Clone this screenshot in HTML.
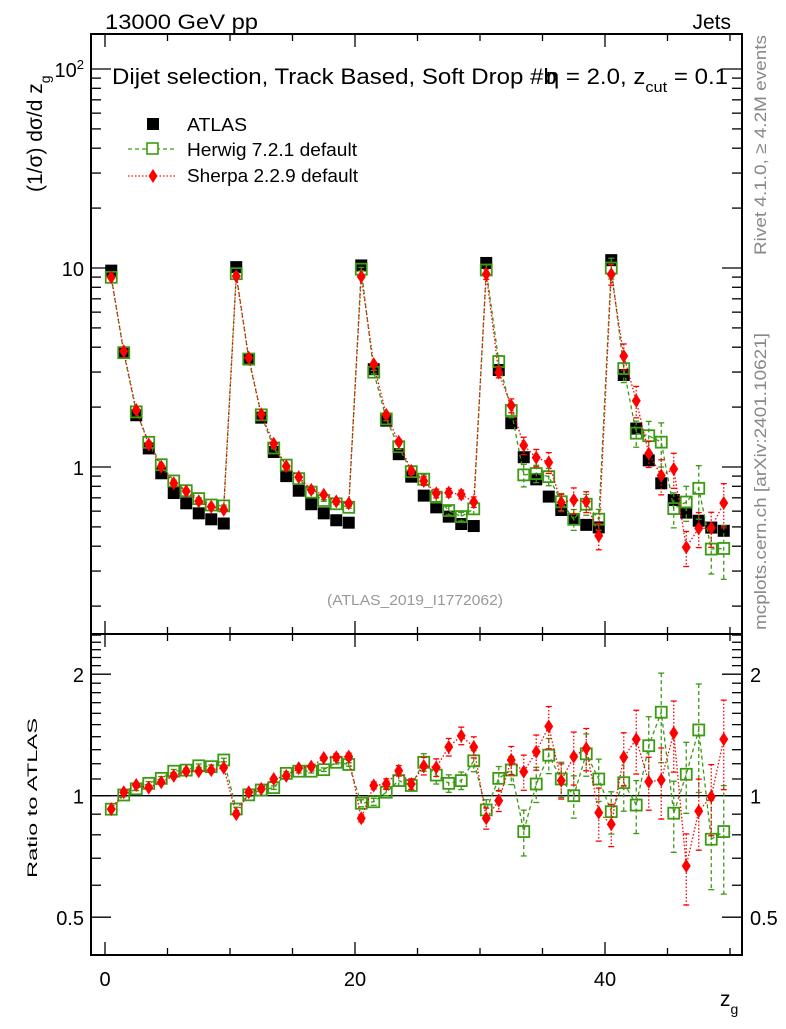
<!DOCTYPE html>
<html><head><meta charset="utf-8"><style>
body{margin:0;background:#fff;}
svg{font-family:"Liberation Sans",sans-serif;}
</style></head><body>
<svg id="c" width="786" height="1024" viewBox="0 0 786 1024"></svg>
<script>
const xCenters=[];for(let i=0;i<50;i++)xCenters.push(i+0.5);
const atlasVals=[9.7,3.74,1.82,1.24,0.93,0.74,0.657,0.585,0.546,0.52,
10.1,3.47,1.77,1.19,0.90,0.76,0.65,0.585,0.54,0.525,
10.3,3.1,1.71,1.16,0.894,0.718,0.627,0.563,0.517,0.505,
10.6,3.07,1.66,1.12,0.867,0.71,0.608,0.546,0.512,0.497,
10.95,2.9,1.56,1.08,0.828,0.683,0.59,0.537,0.496,0.478];
const herwigRatio=[0.926,1.004,1.04,1.073,1.104,1.15,1.157,1.186,1.18,1.226,
0.927,1.005,1.033,1.047,1.136,1.15,1.15,1.16,1.21,1.195,
0.958,0.966,1.02,1.09,1.06,1.21,1.125,1.073,1.09,1.22,
0.922,1.104,1.158,0.815,1.069,1.26,1.1,1.0,1.27,1.1,
0.913,1.077,0.948,1.33,1.61,0.905,1.13,1.455,0.78,0.815];
const sherpaRatio=[0.926,1.02,1.063,1.047,1.08,1.12,1.15,1.15,1.157,1.173,
0.90,1.02,1.04,1.1,1.12,1.17,1.18,1.24,1.245,1.25,
0.879,1.06,1.069,1.153,1.069,1.185,1.175,1.32,1.408,1.32,
0.879,0.972,1.226,1.146,1.285,1.485,1.09,1.25,1.31,0.908,
0.85,1.245,1.38,1.083,1.094,1.43,0.67,0.916,0.995,1.38];
const herwigErr=[0.01,0.01,0.01,0.01,0.01,0.01,0.01,0.01,0.01,0.01,
0.01,0.01,0.01,0.01,0.01,0.01,0.01,0.01,0.01,0.01,
0.02,0.02,0.02,0.03,0.03,0.05,0.05,0.05,0.05,0.06,
0.06,0.07,0.08,0.13,0.1,0.1,0.1,0.12,0.12,0.12,
0.12,0.15,0.15,0.18,0.25,0.2,0.2,0.3,0.25,0.3];
const sherpaErr=[0.01,0.01,0.01,0.01,0.01,0.01,0.01,0.01,0.01,0.01,
0.01,0.01,0.01,0.01,0.01,0.01,0.01,0.01,0.02,0.02,
0.02,0.02,0.03,0.03,0.03,0.05,0.05,0.05,0.05,0.06,
0.06,0.06,0.08,0.1,0.1,0.12,0.1,0.15,0.12,0.15,
0.12,0.15,0.18,0.15,0.2,0.2,0.2,0.2,0.2,0.25];
const xTickLabels=["0","20","40"];
const mainTickLabels=[{v:100,t:"10<tspan dy='-8' font-size='13'>2</tspan>"},{v:10,t:"10"},{v:1,t:"1"}];
const ratioTickLabels=[2,1,0.5];

const NS="http://www.w3.org/2000/svg";
const svg=document.getElementById('c');
const L=91,R=742,MT=34,MB=634,RB=955;
const X=v=>105+12.5*v;
const Y=v=>467-199*Math.log10(v);
const YR=v=>795.7-121.5*Math.log2(v);
function el(tag,attrs,parent){const e=document.createElementNS(NS,tag);for(const k in attrs)e.setAttribute(k,attrs[k]);(parent||svg).appendChild(e);return e;}
function txt(x,y,s,attrs,parent){const e=el('text',Object.assign({x:x,y:y},attrs||{}),parent);e.innerHTML=s;return e;}
const GREEN="#3c9a14",RED="#ff0000";

let f=el('rect',{x:L,y:MT,width:R-L,height:MB-MT,fill:'none',stroke:'#000','stroke-width':2});


f=el('rect',{x:L,y:MB,width:R-L,height:RB-MB,fill:'none',stroke:'#000','stroke-width':2});



const ticks=el('g',{stroke:'#000','stroke-width':1.3});


for(let v=0;v<=50;v+=5){const major=v%20===0;const len=major?13:7;const x=X(v);
 [[MT,1],[MB,-1],[MB,1],[RB,-1]].forEach(([y,d])=>el('line',{x1:x,x2:x,y1:y,y2:y+d*len},ticks));}
for(let e=-1;e<=2;e++){for(let m=1;m<10;m++){const v=m*Math.pow(10,e);const y=Y(v);if(y<MT||y>MB)continue;const len=m===1?20:10;
 el('line',{x1:L,x2:L+len,y1:y,y2:y},ticks);el('line',{x1:R,x2:R-len,y1:y,y2:y},ticks);}}
const rt=[0.4,0.5,0.6,0.7,0.8,0.9,1,1.1,1.2,1.3,1.4,1.5,1.6,1.7,1.8,1.9,2,2.1,2.2,2.3,2.4,2.5];
rt.forEach(v=>{const y=YR(v);if(y<MB||y>RB)return;const len=(v===0.5||v===1||v===2)?20:10;
 el('line',{x1:L,x2:L+len,y1:y,y2:y},ticks);el('line',{x1:R,x2:R-len,y1:y,y2:y},ticks);});

xTickLabels.forEach(s=>{const t=txt(X(+s),986,s,{'font-size':20,'text-anchor':'middle'});
 
 });
mainTickLabels.forEach(o=>{const t=txt(84,Y(o.v)+8,o.t,{'font-size':20,'text-anchor':'end'});
 
 });
ratioTickLabels.forEach(v=>{let t=txt(84,YR(v)+8,String(v),{'font-size':20,'text-anchor':'end'});
 
 
 t=txt(750,YR(v)+8,String(v),{'font-size':20});
 
 });

let rl=el('line',{x1:L,x2:R,y1:YR(1),y2:YR(1),stroke:'#000','stroke-width':1.3});



let t;
t=txt(105,29,"13000 GeV pp",{'font-size':21,textLength:153,lengthAdjust:'spacingAndGlyphs'});
t=txt(731,29,"Jets",{'font-size':21,'text-anchor':'end'});
t=txt(112,84,"Dijet selection, Track Based, Soft Drop #b<tspan dx='-10'>η</tspan> = 2.0, z<tspan dy='8' font-size='15'>cut</tspan><tspan dy='-8'> = 0.1</tspan>",{'font-size':22,textLength:616,lengthAdjust:'spacingAndGlyphs'});

t=txt(0,0,"(1/σ) dσ/d z<tspan dy='8' font-size='14'>g</tspan>",{'font-size':21,transform:'translate(42,192) rotate(-90)'});

t=txt(0,0,"Ratio to ATLAS",{'font-size':14,'text-anchor':'middle',textLength:160,lengthAdjust:'spacingAndGlyphs',transform:'translate(37,798) rotate(-90)'});

t=txt(720,1006,"z<tspan dy='8' font-size='14'>g</tspan>",{'font-size':21});

t=txt(0,0,"Rivet 4.1.0, ≥ 4.2M events",{'font-size':17,fill:'#888','text-anchor':'end',textLength:220,lengthAdjust:'spacingAndGlyphs',transform:'translate(766,35) rotate(-90)'});

t=txt(0,0,"mcplots.cern.ch [arXiv:2401.10621]",{'font-size':17,fill:'#888','text-anchor':'end',textLength:297,lengthAdjust:'spacingAndGlyphs',transform:'translate(766,333) rotate(-90)'});

t=txt(415,605,"(ATLAS_2019_I1772062)",{'font-size':15,fill:'#999','text-anchor':'middle',textLength:176,lengthAdjust:'spacingAndGlyphs'});


const lg=el('g',{});


el('rect',{x:147,y:118,width:12,height:12,fill:'#000'},lg);
txt(187,131,"ATLAS",{'font-size':18,textLength:60,lengthAdjust:'spacingAndGlyphs'},lg);
el('line',{x1:128,x2:175,y1:149,y2:149,stroke:GREEN,'stroke-dasharray':'4,3','stroke-width':1.3},lg);
el('rect',{x:147,y:143,width:11,height:11,fill:'#fff',stroke:GREEN,'stroke-width':1.6},lg);
txt(187,156,"Herwig 7.2.1 default",{'font-size':18,textLength:170,lengthAdjust:'spacingAndGlyphs'},lg);
el('line',{x1:128,x2:175,y1:176,y2:176,stroke:RED,'stroke-dasharray':'1.5,2','stroke-width':1.3},lg);
el('polygon',{points:"153,169 157.5,176 153,183 148.5,176",fill:RED},lg);
txt(187,182,"Sherpa 2.2.9 default",{'font-size':18,textLength:171,lengthAdjust:'spacingAndGlyphs'},lg);

function series(vals,ratios,errs,color,dash,kind,panel,name){
 const g=el('g',{});
 
 
 const Yf=panel==='main'?Y:YR;
 const pts=xCenters.map((x,i)=>[X(x),Yf(panel==='main'?vals[i]*ratios[i]:ratios[i])]);
 el('polyline',{points:pts.map(p=>p.join(',')).join(' '),fill:'none',stroke:color,'stroke-width':1.3,'stroke-dasharray':dash},g);
 xCenters.forEach((x,i)=>{
  const c=panel==='main'?vals[i]*ratios[i]:ratios[i];
  const lo=Yf(c*(1-errs[i])),hi=Yf(c*(1+errs[i]));const px=X(x);
  el('line',{x1:px,x2:px,y1:hi,y2:lo,stroke:color,'stroke-width':1.3,'stroke-dasharray':dash},g);
  el('line',{x1:px-3,x2:px+3,y1:hi,y2:hi,stroke:color,'stroke-width':1.3},g);
  el('line',{x1:px-3,x2:px+3,y1:lo,y2:lo,stroke:color,'stroke-width':1.3},g);
  const py=Yf(c);let m;
  if(kind==='sq'){m=el('rect',{x:px-5.5,y:py-5.5,width:11,height:11,fill:'none',stroke:color,'stroke-width':1.8},g);}
  else{m=el('polygon',{points:`${px},${py-7} ${px+4.5},${py} ${px},${py+7} ${px-4.5},${py}`,fill:color},g);}
  
  
 });
}
const ag=el('g',{});


xCenters.forEach((x,i)=>{const r=el('rect',{x:X(x)-6,y:Y(atlasVals[i])-6,width:12,height:12,fill:'#000'},ag);
 
 });
series(atlasVals,herwigRatio,herwigErr,GREEN,'4,3','sq','main','herwig-main');
series(atlasVals,sherpaRatio,sherpaErr,RED,'1.5,2','di','main','sherpa-main');
series(atlasVals,herwigRatio,herwigErr,GREEN,'4,3','sq','ratio','herwig-ratio');
series(atlasVals,sherpaRatio,sherpaErr,RED,'1.5,2','di','ratio','sherpa-ratio');
</script>
</body></html>
